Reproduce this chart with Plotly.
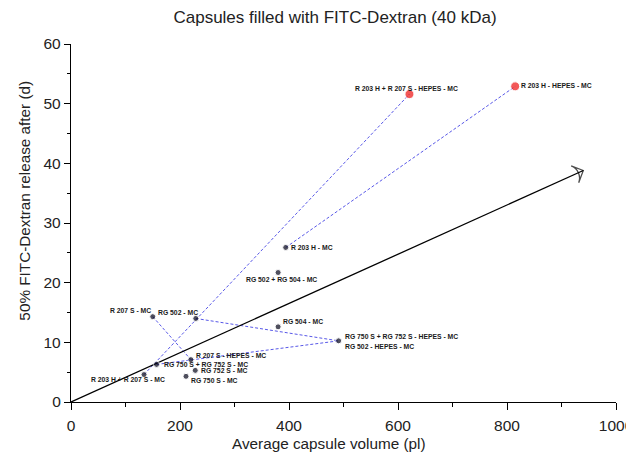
import plotly.graph_objects as go

# ---- data ----
names = [
    "R 203 H - HEPES - MC",
    "R 203 H + R 207 S - HEPES - MC",
    "R 203 H - MC",
    "RG 502 + RG 504 - MC",
    "R 207 S - MC",
    "RG 502 - MC",
    "RG 504 - MC",
    "RG 750 S + RG 752 S - HEPES - MC",
    "R 207 S - HEPES - MC",
    "RG 750 S + RG 752 S - MC",
    "RG 752 S - MC",
    "RG 750 S - MC",
    "R 203 H + R 207 S - MC",
]
volume = [815, 621, 394, 380, 150, 229, 380, 491, 220, 157, 228, 211, 134]
release = [52.9, 51.6, 25.9, 21.7, 14.3, 14.0, 12.6, 10.25, 7.1, 6.3, 5.3, 4.3, 4.6]
highlight = [True, True] + [False] * 11

# second label sharing the RG 750 S + RG 752 S - HEPES - MC point
extra_label = "RG 502 - HEPES - MC"

# dashed connections: MC formulation -> HEPES-MC formulation
pairs_from = ["R 203 H - MC", "R 203 H + R 207 S - MC", "R 207 S - MC",
              "RG 502 - MC", "RG 750 S + RG 752 S - MC"]
pairs_to = ["R 203 H - HEPES - MC", "R 203 H + R 207 S - HEPES - MC",
            "R 207 S - HEPES - MC", "RG 750 S + RG 752 S - HEPES - MC",
            "RG 750 S + RG 752 S - HEPES - MC"]

# trend arrow
trend_x = [0, 940]
trend_y = [0, 38.8]

x_ticks = [0, 200, 400, 600, 800, 1000]
y_ticks = [0, 10, 20, 30, 40, 50, 60]

title_text = "Capsules filled with FITC-Dextran (40 kDa)"
x_title = "Average capsule volume (pl)"
y_title = "50% FITC-Dextran release after (d)"

idx = {n: i for i, n in enumerate(names)}

fig = go.Figure()

# dashed blue connectors
for a, b in zip(pairs_from, pairs_to):
    ia, ib = idx[a], idx[b]
    fig.add_trace(go.Scatter(
        x=[volume[ia], volume[ib]], y=[release[ia], release[ib]],
        mode="lines", line=dict(color="#5858e8", width=1, dash="3px,2px"),
        hoverinfo="skip", showlegend=False))

# trend arrow
fig.add_trace(go.Scatter(
    x=trend_x, y=trend_y, mode="lines+markers",
    line=dict(color="black", width=1.3),
    marker=dict(symbol="arrow-wide-open", angleref="previous", size=[0, 13],
                color="black", line=dict(color="black", width=1.3)),
    hoverinfo="skip", showlegend=False))

# points
fig.add_trace(go.Scatter(
    x=volume, y=release, mode="markers",
    marker=dict(color=["#ee1111" if h else "#05051a" for h in highlight],
                size=[9 if h else 6 for h in highlight]),
    text=names, hoverinfo="text", showlegend=False))

# label placement (style only): xanchor, xshift, yshift
place = {
    "R 203 H - HEPES - MC": ("left", 4, 1),
    "R 203 H + R 207 S - HEPES - MC": ("right", 51, 6),
    "R 203 H - MC": ("left", 3, 0),
    "RG 502 + RG 504 - MC": ("center", 3, -7),
    "R 207 S - MC": ("right", 0, 6),
    "RG 502 - MC": ("right", 4, 6),
    "RG 504 - MC": ("left", 3, 5),
    "RG 750 S + RG 752 S - HEPES - MC": ("left", 4, 4),
    "R 207 S - HEPES - MC": ("left", 3, 4),
    "RG 750 S + RG 752 S - MC": ("left", 5, 0),
    "RG 752 S - MC": ("left", 4, 0),
    "RG 750 S - MC": ("left", 3, -4),
    "R 203 H + R 207 S - MC": ("right", 23, -5),
}
lab_font = dict(family="Arial, Liberation Sans, sans-serif", size=6.8, color="#1a1a1a")
for n in names:
    xa, xs, ys = place[n]
    i = idx[n]
    fig.add_annotation(x=volume[i], y=release[i], text="<b>" + n + "</b>",
                       showarrow=False, xanchor=xa, yanchor="middle",
                       xshift=xs, yshift=ys, font=lab_font)
i = idx["RG 750 S + RG 752 S - HEPES - MC"]
fig.add_annotation(x=volume[i], y=release[i], text="<b>" + extra_label + "</b>",
                   showarrow=False, xanchor="left", yanchor="middle",
                   xshift=4, yshift=-6, font=lab_font)

tick_font = dict(family="Arial, Liberation Sans, sans-serif", size=15.5, color="#222")
title_font = dict(family="Arial, Liberation Sans, sans-serif", size=15.3, color="#222")

# axis titles (placed as annotations, offset like the original)
fig.add_annotation(x=473, xref="x", y=0, yref="paper", yshift=-41.5,
                   text=x_title, showarrow=False, xanchor="center", yanchor="middle",
                   font=title_font)
fig.add_annotation(x=0, xref="paper", xshift=-46, y=33.75, yref="y",
                   text=y_title, textangle=-90, showarrow=False,
                   xanchor="center", yanchor="middle", font=title_font)

fig.update_layout(
    width=626, height=445,
    margin=dict(l=63, r=17.5, t=36, b=50.5),
    paper_bgcolor="white", plot_bgcolor="white",
    font=tick_font,
    title=dict(text=title_text,
               x=0.5224, xanchor="center", y=0.98, yanchor="middle",
               font=dict(family="Arial, Liberation Sans, sans-serif", size=17, color="#222")),
    xaxis=dict(range=[0, 1000], tickvals=x_ticks, showgrid=False, zeroline=False,
               automargin=False, tickfont=tick_font, ticklabelstandoff=2,
               showline=True, linecolor="black", linewidth=1.3,
               ticks="outside", ticklen=7, tickcolor="black", tickwidth=1,
               minor=dict(dtick=100, ticks="outside", ticklen=4, tickcolor="black")),
    yaxis=dict(range=[0, 60], tickvals=y_ticks, showgrid=False, zeroline=False,
               automargin=False, tickfont=tick_font,
               showline=True, linecolor="black", linewidth=1.3,
               ticks="outside", ticklen=6, tickcolor="black", tickwidth=1,
               minor=dict(dtick=5, ticks="outside", ticklen=3, tickcolor="black")),
)

fig.write_html("out.html")
